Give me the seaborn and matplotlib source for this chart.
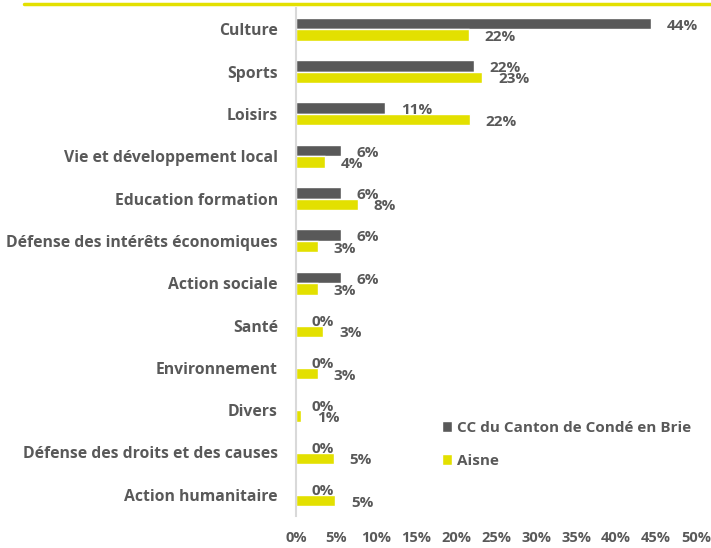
import matplotlib
matplotlib.use('Agg')
import matplotlib.pyplot as plt
import seaborn as sns
import pandas as pd
from matplotlib.lines import Line2D

categories = [
    "Culture", "Sports", "Loisirs", "Vie et développement local",
    "Education formation", "Défense des intérêts économiques",
    "Action sociale", "Santé", "Environnement", "Divers",
    "Défense des droits et des causes", "Action humanitaire",
]
series_names = ["CC du Canton de Condé en Brie", "Aisne"]
cc_values = [44.4, 22.2, 11.1, 5.6, 5.6, 5.6, 5.6, 0, 0, 0, 0, 0]
aisne_values = [21.6, 23.3, 21.7, 3.6, 7.7, 2.7, 2.7, 3.4, 2.7, 0.6, 4.7, 4.9]
x_ticks = [0, 5, 10, 15, 20, 25, 30, 35, 40, 45, 50]

DARK = "#595959"
YELLOW = "#E3E000"
TEXT = "#595959"
FS = 11

df = pd.DataFrame({
    "cat": categories * 2,
    "serie": [series_names[0]] * len(categories) + [series_names[1]] * len(categories),
    "val": cc_values + aisne_values,
})

sns.set_style("white")
plt.rcParams['font.family'] = ['Open Sans', 'DejaVu Sans']

fig = plt.figure(figsize=(7.11, 5.48), dpi=100)
ax = fig.add_axes([296 / 711, 32 / 548, 400 / 711, 508 / 548])

sns.barplot(data=df, y="cat", x="val", hue="serie", order=categories,
            hue_order=series_names, palette=[DARK, YELLOW], width=0.54,
            orient="h", ax=ax, saturation=1, legend=True)

ax.set_xlim(0, 50)
ax.set_xticks(x_ticks)
ax.set_xticklabels([f"{t}%" for t in x_ticks])
ax.set_xlabel("")
ax.set_ylabel("")
ax.tick_params(axis="both", length=0, colors=TEXT)
ax.tick_params(axis="x", pad=11, labelsize=10.5)
ax.tick_params(axis="y", pad=13, labelsize=11.3)
for lab in ax.get_xticklabels() + ax.get_yticklabels():
    lab.set_fontweight("bold")
    lab.set_color(TEXT)

for s in ["top", "right", "bottom"]:
    ax.spines[s].set_visible(False)
ax.spines["left"].set_color("#d9d9d9")
ax.spines["left"].set_linewidth(1.5)

# data labels
for cont in ax.containers:
    for bar, v in zip(cont, cont.datavalues):
        y = bar.get_y() + bar.get_height() / 2
        ax.annotate(f"{round(v):.0f}%", (bar.get_width(), y),
                    xytext=(11.5, -1.5), textcoords="offset points",
                    ha="left", va="center", fontsize=FS,
                    fontweight="bold", color=TEXT)

leg = ax.legend(loc="upper left", bbox_to_anchor=(0.33, 0.215), frameon=False,
                fontsize=FS, handlelength=0.7, handleheight=0.7,
                handletextpad=0.3, labelspacing=1.25)
for t in leg.get_texts():
    t.set_color(TEXT)
    t.set_fontweight("bold")

# yellow rule at the top
fig.add_artist(Line2D([24 / 711, 1], [1 - 4 / 548, 1 - 4 / 548],
                      color=YELLOW, linewidth=2.5, transform=fig.transFigure))

fig.savefig("out.png", dpi=100)
